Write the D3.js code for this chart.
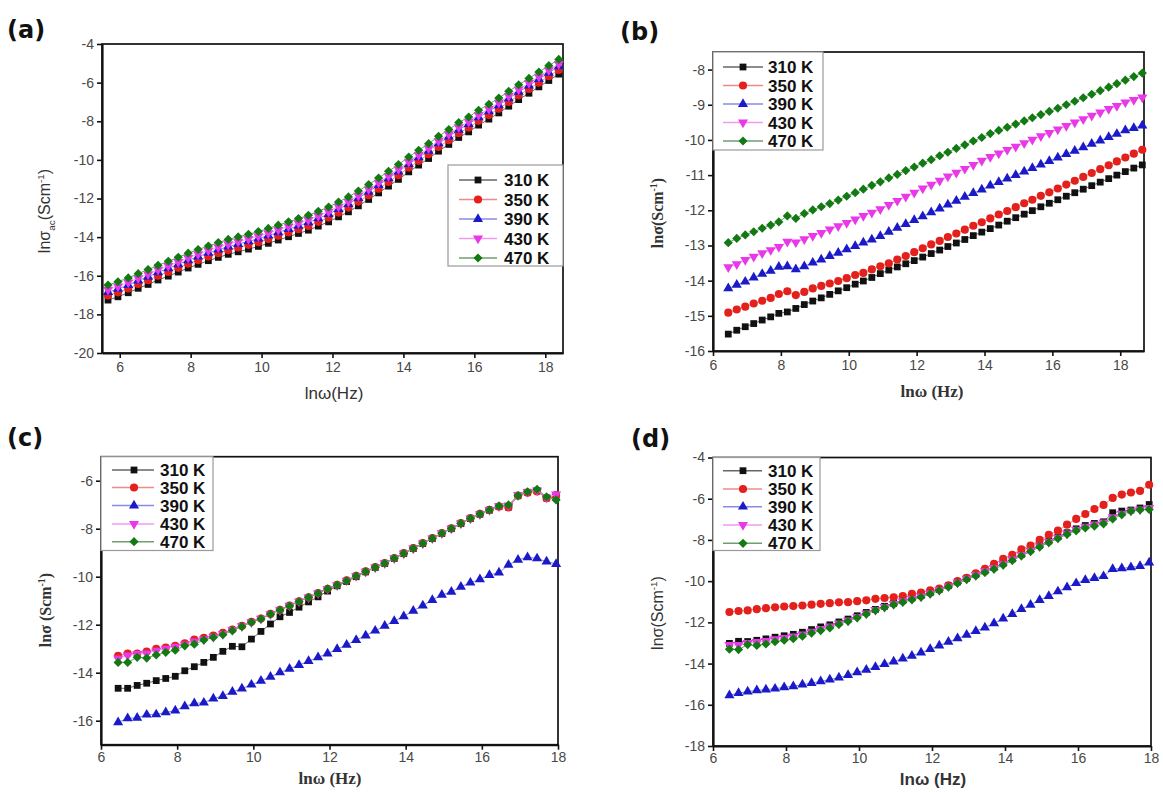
<!DOCTYPE html>
<html><head><meta charset="utf-8">
<script src="https://cdn.jsdelivr.net/npm/d3@7"></script>
<style>body{margin:0;background:#fff}svg{display:block}</style>
</head><body><svg id="c" width="1163" height="792"></svg>
<script>
// ---------------- DATA ----------------
const temps = ["310 K","350 K","390 K","430 K","470 K"];

const xTicks = [6,8,10,12,14,16,18];
const yTicksA = [-20,-18,-16,-14,-12,-10,-8,-6,-4];
const yTicksB = [-16,-15,-14,-13,-12,-11,-10,-9,-8];
const yTicksC = [-16,-14,-12,-10,-8,-6];
const yTicksD = [-18,-16,-14,-12,-10,-8,-6,-4];

// panel (a)
const xA = [5.67,5.95,6.24,6.52,6.80,7.08,7.37,7.65,7.93,8.21,8.50,8.78,9.06,9.34,9.63,9.91,10.19,10.47,10.76,11.04,11.32,11.60,11.89,12.17,12.45,12.73,13.02,13.30,13.58,13.86,14.15,14.43,14.71,14.99,15.28,15.56,15.84,16.12,16.41,16.69,16.97,17.25,17.54,17.82,18.10,18.38];
const a310 = [-17.26,-17.09,-16.88,-16.65,-16.45,-16.22,-16.02,-15.81,-15.60,-15.41,-15.22,-15.05,-14.89,-14.76,-14.62,-14.48,-14.32,-14.15,-13.98,-13.81,-13.64,-13.43,-13.21,-12.95,-12.69,-12.38,-12.05,-11.71,-11.36,-11.01,-10.62,-10.27,-9.93,-9.55,-9.20,-8.84,-8.55,-8.20,-7.89,-7.57,-7.22,-6.88,-6.55,-6.22,-5.89,-5.56];
const a350 = [-17.02,-16.86,-16.66,-16.43,-16.23,-16.00,-15.80,-15.59,-15.38,-15.19,-15.00,-14.83,-14.67,-14.54,-14.40,-14.26,-14.10,-13.93,-13.76,-13.59,-13.42,-13.21,-12.99,-12.73,-12.47,-12.16,-11.83,-11.49,-11.14,-10.79,-10.40,-10.05,-9.71,-9.33,-8.98,-8.62,-8.33,-7.98,-7.67,-7.35,-7.00,-6.66,-6.33,-6.00,-5.67,-5.34];
const a390 = [-16.85,-16.68,-16.48,-16.25,-16.05,-15.82,-15.62,-15.41,-15.20,-15.01,-14.82,-14.65,-14.49,-14.36,-14.22,-14.08,-13.92,-13.75,-13.58,-13.41,-13.24,-13.03,-12.81,-12.55,-12.29,-11.98,-11.65,-11.31,-10.96,-10.61,-10.22,-9.87,-9.53,-9.15,-8.80,-8.44,-8.15,-7.80,-7.49,-7.17,-6.82,-6.48,-6.15,-5.82,-5.49,-5.16];
const a430 = [-16.72,-16.55,-16.35,-16.12,-15.92,-15.69,-15.49,-15.28,-15.07,-14.88,-14.69,-14.52,-14.36,-14.23,-14.09,-13.95,-13.79,-13.62,-13.45,-13.28,-13.11,-12.90,-12.68,-12.42,-12.16,-11.85,-11.52,-11.18,-10.83,-10.48,-10.09,-9.74,-9.40,-9.02,-8.67,-8.31,-8.02,-7.67,-7.36,-7.04,-6.69,-6.35,-6.02,-5.69,-5.36,-5.03];
const a470 = [-16.48,-16.31,-16.11,-15.89,-15.68,-15.46,-15.25,-15.04,-14.83,-14.64,-14.46,-14.28,-14.12,-13.99,-13.85,-13.71,-13.55,-13.38,-13.21,-13.04,-12.87,-12.66,-12.44,-12.18,-11.92,-11.61,-11.28,-10.94,-10.59,-10.24,-9.85,-9.50,-9.16,-8.78,-8.43,-8.07,-7.78,-7.43,-7.12,-6.80,-6.45,-6.11,-5.78,-5.45,-5.12,-4.80];

// panel (b)
const xB = [6.45,6.70,6.95,7.20,7.45,7.70,7.94,8.19,8.44,8.69,8.94,9.19,9.44,9.69,9.94,10.19,10.43,10.68,10.93,11.18,11.43,11.68,11.93,12.18,12.43,12.68,12.92,13.17,13.42,13.67,13.92,14.17,14.42,14.67,14.92,15.17,15.41,15.66,15.91,16.16,16.41,16.66,16.91,17.16,17.41,17.66,17.90,18.15,18.40,18.65];
const b310 = [-15.52,-15.41,-15.31,-15.22,-15.12,-15.03,-14.93,-14.89,-14.79,-14.68,-14.58,-14.49,-14.39,-14.29,-14.20,-14.10,-14.01,-13.91,-13.80,-13.70,-13.61,-13.52,-13.43,-13.33,-13.23,-13.13,-13.03,-12.93,-12.83,-12.72,-12.62,-12.52,-12.42,-12.31,-12.21,-12.11,-12.01,-11.90,-11.80,-11.70,-11.60,-11.50,-11.40,-11.30,-11.20,-11.10,-11.00,-10.90,-10.80,-10.71];
const b350 = [-14.91,-14.82,-14.74,-14.65,-14.57,-14.49,-14.38,-14.30,-14.41,-14.32,-14.22,-14.15,-14.08,-14.01,-13.93,-13.84,-13.78,-13.68,-13.59,-13.51,-13.40,-13.30,-13.19,-13.08,-12.97,-12.87,-12.76,-12.66,-12.55,-12.44,-12.34,-12.23,-12.12,-12.02,-11.91,-11.80,-11.70,-11.59,-11.49,-11.38,-11.27,-11.16,-11.05,-10.94,-10.83,-10.72,-10.61,-10.50,-10.39,-10.28];
const b390 = [-14.22,-14.12,-14.03,-13.91,-13.81,-13.72,-13.61,-13.59,-13.68,-13.59,-13.49,-13.40,-13.30,-13.21,-13.11,-13.02,-12.92,-12.83,-12.73,-12.61,-12.50,-12.39,-12.28,-12.17,-12.06,-11.95,-11.84,-11.73,-11.62,-11.51,-11.41,-11.30,-11.20,-11.10,-11.00,-10.90,-10.80,-10.70,-10.60,-10.50,-10.40,-10.31,-10.21,-10.11,-10.02,-9.92,-9.83,-9.73,-9.66,-9.59];
const b430 = [-13.62,-13.53,-13.41,-13.32,-13.22,-13.13,-13.04,-12.89,-12.91,-12.82,-12.73,-12.64,-12.54,-12.45,-12.36,-12.26,-12.16,-12.07,-11.97,-11.85,-11.73,-11.61,-11.50,-11.38,-11.27,-11.16,-11.04,-10.93,-10.82,-10.71,-10.59,-10.48,-10.38,-10.28,-10.19,-10.09,-9.99,-9.89,-9.80,-9.70,-9.60,-9.50,-9.41,-9.31,-9.22,-9.12,-9.03,-8.93,-8.86,-8.79];
const b470 = [-12.92,-12.80,-12.70,-12.61,-12.51,-12.42,-12.33,-12.16,-12.23,-12.09,-11.99,-11.90,-11.81,-11.71,-11.60,-11.50,-11.40,-11.29,-11.19,-11.08,-10.98,-10.87,-10.77,-10.66,-10.56,-10.45,-10.35,-10.24,-10.14,-10.03,-9.93,-9.82,-9.73,-9.64,-9.55,-9.46,-9.37,-9.28,-9.19,-9.10,-9.00,-8.90,-8.80,-8.70,-8.60,-8.50,-8.40,-8.30,-8.20,-8.10];

// panels (c) and (d) share frequencies
const xCD = [6.45,6.70,6.95,7.20,7.45,7.70,7.95,8.20,8.45,8.70,8.95,9.20,9.45,9.70,9.95,10.20,10.45,10.70,10.95,11.20,11.45,11.70,11.95,12.20,12.45,12.70,12.95,13.20,13.45,13.70,13.95,14.20,14.45,14.70,14.95,15.20,15.45,15.70,15.95,16.20,16.45,16.70,16.95,17.20,17.45,17.70,17.95];
const c310 = [-14.65,-14.65,-14.53,-14.44,-14.33,-14.24,-14.15,-13.92,-13.75,-13.57,-13.36,-13.11,-12.90,-12.92,-12.60,-12.28,-11.97,-11.67,-11.49,-11.27,-11.05,-10.84,-10.60,-10.38,-10.20,-10.00,-9.80,-9.62,-9.45,-9.24,-9.04,-8.83,-8.62,-8.41,-8.20,-8.00,-7.79,-7.58,-7.40,-7.23,-7.08,-7.10,-6.63,-6.48,-6.42,-6.72,-6.70];
const c350 = [-13.30,-13.20,-13.20,-13.12,-13.00,-12.95,-12.88,-12.78,-12.62,-12.55,-12.45,-12.34,-12.20,-12.05,-11.88,-11.74,-11.55,-11.38,-11.20,-11.03,-10.86,-10.68,-10.50,-10.34,-10.15,-9.96,-9.78,-9.60,-9.43,-9.22,-9.02,-8.81,-8.60,-8.39,-8.18,-7.98,-7.77,-7.56,-7.38,-7.21,-7.08,-7.11,-6.62,-6.50,-6.45,-6.73,-6.60];
const c390 = [-16.07,-15.90,-15.88,-15.75,-15.74,-15.65,-15.58,-15.40,-15.28,-15.25,-15.08,-14.97,-14.80,-14.66,-14.50,-14.34,-14.17,-13.99,-13.84,-13.68,-13.52,-13.36,-13.20,-13.02,-12.84,-12.64,-12.45,-12.25,-12.05,-11.85,-11.65,-11.42,-11.20,-10.97,-10.76,-10.63,-10.42,-10.25,-10.11,-9.93,-9.83,-9.51,-9.30,-9.19,-9.24,-9.37,-9.47];
const c430 = [-13.40,-13.28,-13.22,-13.20,-13.08,-13.00,-12.92,-12.82,-12.70,-12.60,-12.50,-12.38,-12.22,-12.06,-11.89,-11.75,-11.56,-11.39,-11.21,-11.03,-10.86,-10.69,-10.51,-10.35,-10.16,-9.97,-9.79,-9.61,-9.44,-9.23,-9.03,-8.82,-8.61,-8.40,-8.19,-7.99,-7.78,-7.57,-7.39,-7.22,-7.06,-7.03,-6.60,-6.47,-6.40,-6.70,-6.57];
const c470 = [-13.57,-13.57,-13.36,-13.39,-13.26,-13.15,-13.06,-12.88,-12.81,-12.64,-12.53,-12.42,-12.25,-12.08,-11.90,-11.76,-11.56,-11.39,-11.22,-11.04,-10.86,-10.69,-10.51,-10.35,-10.17,-9.97,-9.79,-9.61,-9.44,-9.23,-9.03,-8.82,-8.61,-8.40,-8.19,-7.99,-7.78,-7.57,-7.39,-7.22,-7.05,-7.01,-6.62,-6.46,-6.36,-6.67,-6.80];

const d310 = [-13.02,-12.92,-12.93,-12.87,-12.80,-12.72,-12.65,-12.58,-12.48,-12.35,-12.22,-12.12,-11.98,-11.84,-11.68,-11.52,-11.37,-11.22,-11.08,-10.95,-10.82,-10.70,-10.56,-10.40,-10.22,-10.04,-9.86,-9.68,-9.50,-9.33,-9.13,-8.92,-8.70,-8.48,-8.26,-8.05,-7.85,-7.65,-7.46,-7.30,-7.20,-7.12,-6.68,-6.60,-6.55,-6.45,-6.28];
const d350 = [-11.50,-11.45,-11.42,-11.36,-11.31,-11.27,-11.23,-11.21,-11.18,-11.14,-11.10,-11.07,-11.03,-11.02,-10.97,-10.93,-10.86,-10.82,-10.78,-10.73,-10.62,-10.56,-10.45,-10.36,-10.20,-10.00,-9.84,-9.62,-9.40,-9.16,-8.92,-8.72,-8.45,-8.27,-8.00,-7.75,-7.55,-7.26,-6.98,-6.74,-6.50,-6.30,-5.96,-5.80,-5.70,-5.62,-5.32];
const d390 = [-15.54,-15.43,-15.36,-15.30,-15.26,-15.22,-15.15,-15.10,-15.02,-14.95,-14.86,-14.78,-14.68,-14.56,-14.43,-14.30,-14.17,-14.03,-13.90,-13.76,-13.62,-13.47,-13.30,-13.13,-12.95,-12.78,-12.60,-12.42,-12.25,-12.05,-11.82,-11.60,-11.36,-11.15,-10.92,-10.72,-10.50,-10.30,-10.10,-9.95,-9.85,-9.76,-9.42,-9.38,-9.33,-9.27,-9.10];
const d430 = [-13.10,-13.10,-13.00,-12.95,-12.90,-12.82,-12.75,-12.68,-12.58,-12.45,-12.32,-12.20,-12.05,-11.90,-11.73,-11.56,-11.40,-11.25,-11.11,-10.98,-10.86,-10.74,-10.59,-10.43,-10.25,-10.06,-9.88,-9.70,-9.52,-9.36,-9.16,-8.95,-8.73,-8.52,-8.30,-8.09,-7.89,-7.68,-7.50,-7.36,-7.25,-7.15,-6.90,-6.72,-6.58,-6.52,-6.45];
const d470 = [-13.30,-13.32,-13.08,-13.12,-13.05,-12.94,-12.87,-12.79,-12.67,-12.52,-12.40,-12.27,-12.10,-11.95,-11.78,-11.60,-11.42,-11.28,-11.14,-11.02,-10.90,-10.78,-10.62,-10.46,-10.28,-10.10,-9.92,-9.75,-9.58,-9.42,-9.22,-9.00,-8.78,-8.56,-8.34,-8.13,-7.93,-7.73,-7.55,-7.42,-7.33,-7.22,-6.98,-6.78,-6.60,-6.54,-6.52];

// ---------------- STYLE ----------------
const colors = ["#111111","#e3201c","#1a1ac8","#e838e8","#137a13"];
const legLine = ["#666666","#f08a8a","#8a8ae6","#f09af0","#6f9f6f"];
const SANS = "'Liberation Sans', Arial, sans-serif";
const SERIF = "'Liberation Serif', 'Times New Roman', serif";

const svg = d3.select('#c');

function symbolPath(k) {
  if (k === 0) return {d: d3.symbol(d3.symbolSquare, 46)(), rot: 0};
  if (k === 1) return {d: d3.symbol(d3.symbolCircle, 52)(), rot: 0};
  if (k === 2) return {d: d3.symbol(d3.symbolTriangle, 44)(), rot: 0};
  if (k === 3) return {d: d3.symbol(d3.symbolTriangle, 44)(), rot: 180};
  return {d: d3.symbol(d3.symbolSquare, 42)(), rot: 45};
}

function richText(g, parts, size, family, weight, fill) {
  const t = g.append('text').attr('font-family', family).attr('font-size', size)
    .attr('font-weight', weight).attr('fill', fill).attr('text-anchor', 'middle');
  let shift = 0;
  parts.forEach(p => {
    const sp = t.append('tspan').text(p.t);
    let target = 0, fs = size;
    if (p.sub) { target = size * 0.3; fs = size * 0.62; }
    if (p.sup) { target = -size * 0.4; fs = size * 0.62; }
    sp.attr('font-size', fs).attr('dy', target - shift);
    shift = target;
  });
  return t;
}

function drawPanel(p) {
  const g = svg.append('g');
  const x = d3.scaleLinear().domain(p.xd).range([p.l, p.r]);
  const y = d3.scaleLinear().domain(p.yd).range([p.b, p.t]);

  g.append('rect').attr('x', p.l).attr('y', p.t).attr('width', p.r - p.l).attr('height', p.b - p.t)
    .attr('fill', 'none').attr('stroke', '#111').attr('stroke-width', 1.7);

  p.series.forEach((ys, k) => {
    const pts = p.xs.map((xv, i) => [xv, ys[i]]);
    g.append('path').attr('d', d3.line().x(d => x(d[0])).y(d => y(d[1]))(pts))
      .attr('fill', 'none').attr('stroke', legLine[k]).attr('stroke-width', 1);
    const sp = symbolPath(k);
    g.append('g').selectAll('path').data(pts).join('path')
      .attr('d', sp.d)
      .attr('transform', d => `translate(${x(d[0])},${y(d[1])}) rotate(${sp.rot})`)
      .attr('fill', colors[k]);
  });

  const ax = g.append('g').attr('transform', `translate(0,${p.b})`)
    .call(d3.axisBottom(x).tickValues(xTicks).tickSize(5).tickSizeOuter(0).tickPadding(p.xpad).tickFormat(d3.format('d')));
  const ay = g.append('g').attr('transform', `translate(${p.l},0)`)
    .call(d3.axisLeft(y).tickValues(p.yt).tickSize(5).tickSizeOuter(0).tickPadding(3).tickFormat(d => d3.format('d')(d).replace('\u2212','-')));
  [ax, ay].forEach(a => {
    a.select('.domain').attr('stroke', '#111').attr('stroke-width', 2.2);
    a.selectAll('.tick line').attr('stroke', '#111').attr('stroke-width', 1.6);
    a.selectAll('.tick text').attr('font-family', SANS).attr('font-size', 14).attr('fill', '#484848');
  });

  const L = p.leg;
  g.append('rect').attr('x', L.x0).attr('y', L.y0).attr('width', L.x1 - L.x0).attr('height', L.y1 - L.y0)
    .attr('fill', '#fff').attr('stroke', '#9a9a9a').attr('stroke-width', 1.2);
  temps.forEach((name, k) => {
    const ry = L.rows[k];
    g.append('line').attr('x1', L.lx1).attr('x2', L.lx2).attr('y1', ry).attr('y2', ry)
      .attr('stroke', legLine[k]).attr('stroke-width', 1.4);
    const sp = symbolPath(k);
    g.append('path').attr('d', sp.d).attr('transform', `translate(${L.mx},${ry}) rotate(${sp.rot})`).attr('fill', colors[k]);
    g.append('text').attr('x', L.tx).attr('y', ry).attr('dy', '0.36em').text(name)
      .attr('font-family', SANS).attr('font-weight', 'bold').attr('font-size', L.fs).attr('fill', '#111');
  });

  svg.append('text').attr('x', p.tag.x).attr('y', p.tag.y).text(p.tag.t)
    .attr('font-family', "'DejaVu Sans', sans-serif").attr('font-weight', 'bold').attr('font-size', 24).attr('fill', '#111');

  richText(svg.append('g').attr('transform', `translate(${p.ylab.x},${p.ylab.y}) rotate(-90)`),
    p.ylab.parts, p.ylab.fs, p.ylab.family, p.ylab.weight, '#333');
  const xg = svg.append('g').attr('transform', `translate(${p.xlab.x},${p.xlab.y})`);
  richText(xg, [{t: p.xlab.t}], p.xlab.fs, p.xlab.family, p.xlab.weight, '#333');
}

const ySig = (sp) => [{t:'ln\u03c3' + sp + '(Scm'},{t:'-1',sup:true},{t:')'}];

drawPanel({
  xd:[5.5,18.5], yd:[-20,-4], l:102, r:563, t:44, b:353, yt:yTicksA, xpad:4,
  xs:xA, series:[a310,a350,a390,a430,a470],
  leg:{x0:448,y0:165,x1:563,y1:266, rows:[180,199.5,219,238.5,258], lx1:459, lx2:497, mx:478, tx:504, fs:17},
  tag:{x:7, y:38, t:'(a)'},
  ylab:{x:50, y:211, fs:16, family:SANS, weight:'normal', parts:[{t:'ln\u03c3'},{t:'ac',sub:true},{t:'(Scm'},{t:'-1',sup:true},{t:')'}]},
  xlab:{x:334, y:399, t:'ln\u03c9(Hz)', fs:17, family:SANS, weight:'normal'}
});

drawPanel({
  xd:[6,18.7], yd:[-16,-7.5], l:713, r:1144, t:52, b:351, yt:yTicksB, xpad:4,
  xs:xB, series:[b310,b350,b390,b430,b470],
  leg:{x0:713,y0:52,x1:823,y1:150, rows:[67,85.5,104,122.5,141], lx1:723, lx2:763, mx:743, tx:768, fs:17},
  tag:{x:620, y:40, t:'(b)'},
  ylab:{x:663, y:213, fs:16, family:SERIF, weight:'bold', parts:ySig('')},
  xlab:{x:932, y:397, t:'ln\u03c9 (Hz)', fs:17, family:SERIF, weight:'bold'}
});

drawPanel({
  xd:[6,18], yd:[-17,-5], l:101, r:558, t:456.7, b:744.7, yt:yTicksC, xpad:2,
  xs:xCD, series:[c310,c350,c390,c430,c470],
  leg:{x0:101,y0:456.7,x1:213,y1:550.5, rows:[470,487.5,505.5,524,541.7], lx1:112, lx2:154, mx:134, tx:160, fs:17},
  tag:{x:7, y:446, t:'(c)'},
  ylab:{x:51, y:610, fs:16, family:SERIF, weight:'bold', parts:ySig(' ')},
  xlab:{x:330, y:784, t:'ln\u03c9 (Hz)', fs:17, family:SERIF, weight:'bold'}
});

drawPanel({
  xd:[6,18], yd:[-18,-4], l:713, r:1151, t:457.5, b:746, yt:yTicksD, xpad:2,
  xs:xCD, series:[d310,d350,d390,d430,d470],
  leg:{x0:713,y0:457.5,x1:820,y1:550.5, rows:[470.7,489,506.7,525,543.3], lx1:723, lx2:762, mx:743, tx:768, fs:17},
  tag:{x:631, y:447, t:'(d)'},
  ylab:{x:663, y:613, fs:16, family:SANS, weight:'normal', parts:ySig('')},
  xlab:{x:933, y:785, t:'ln\u03c9 (Hz)', fs:17, family:SANS, weight:'bold'}
});
</script></body></html>
